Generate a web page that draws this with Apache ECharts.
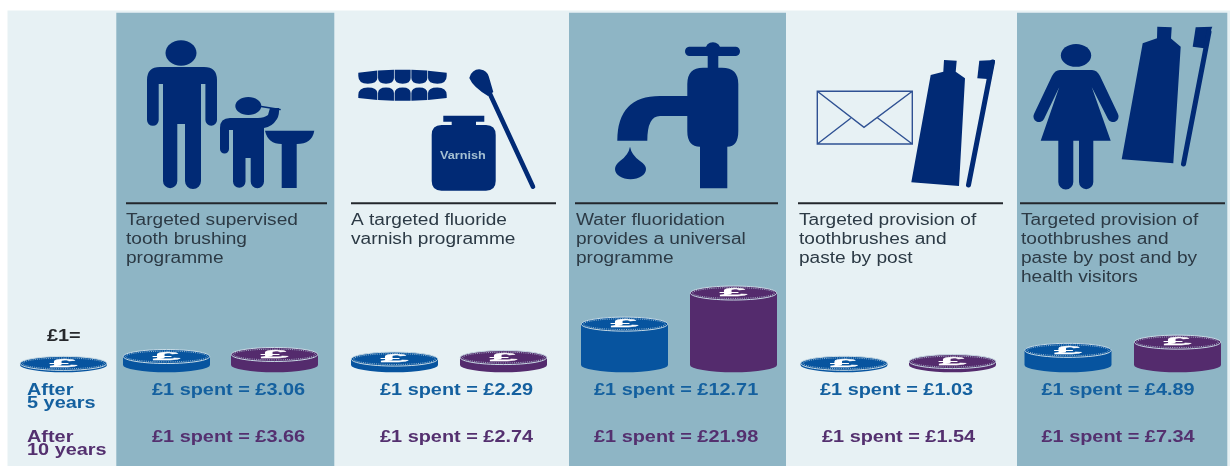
<!DOCTYPE html>
<html>
<head>
<meta charset="utf-8">
<style>html,body{margin:0;padding:0;background:#fff}#c{width:1230px;height:466px;filter:blur(0.45px)}</style>
<script src="https://cdn.jsdelivr.net/npm/echarts@6/dist/echarts.min.js"></script>
</head>
<body>
<div id="c"></div>
<script>
// ---------- data ----------
const programmes = [
  ['Targeted supervised', 'tooth brushing', 'programme'],
  ['A targeted fluoride', 'varnish programme'],
  ['Water fluoridation', 'provides a universal', 'programme'],
  ['Targeted provision of', 'toothbrushes and', 'paste by post'],
  ['Targeted provision of', 'toothbrushes and', 'paste by post and by', 'health visitors']
];
const after5Years = [3.06, 2.29, 12.71, 1.03, 4.89];
const after10Years = [3.66, 2.74, 21.98, 1.54, 7.34];
const referenceCoin = [1];

// ---------- layout ----------
const coin5X = [166.5, 394.5, 624.5, 844, 1068];
const coin10X = [274.5, 503.5, 733.5, 952.5, 1177.5];
const refX = [63.5];
const COIN_BASE = 0.525; // axis value at the centre of a coin's lower rim
const darkPanels = [[116.3, 218], [569, 217], [1017, 210.3]];
const ruleX = [[126, 327], [351, 556], [575, 778], [798, 1003], [1020, 1225]];
const headX = [126, 351, 576, 799, 1021];
const label5X = [152, 380, 594, 820, 1041.5];
const label10X = [152, 380, 594, 822, 1041.5];

const NAVY = '#012a75', LIGHT = '#e7f1f4', DARK = '#8eb5c5';
const BLUE = '#07549f', PURPLE = '#542b6d';
const TXT_BLUE = '#14609f', TXT_PURPLE = '#54306f';
const FONT = '"Liberation Sans", Arial, sans-serif';

function txt(text, x, y, size, weight, fill, sx) {
  return {
    type: 'text', x: x, y: y, scaleX: sx || 1.17, z: 10, silent: true,
    style: { text: text, fill: fill, font: weight + ' ' + size + 'px ' + FONT,
             align: 'left', verticalAlign: 'middle', textAlign: 'left', textVerticalAlign: 'middle' }
  };
}

const graphics = [
  { type: 'rect', z: 0, silent: true, shape: { x: 7.5, y: 10.5, width: 1223, height: 456 }, style: { fill: LIGHT } }
];
darkPanels.forEach(p => graphics.push({ type: 'rect', z: 1, silent: true,
  shape: { x: p[0], y: 12.7, width: p[1], height: 454 }, style: { fill: DARK } }));
ruleX.forEach(r => graphics.push({ type: 'rect', z: 5, silent: true,
  shape: { x: r[0], y: 202.2, width: r[1] - r[0], height: 2 }, style: { fill: '#23272c' } }));
programmes.forEach((lines, i) => lines.forEach((l, j) =>
  graphics.push(txt(l, headX[i], 220.7 + j * 18.8, 16, 'normal', '#2c3a45', 1.193))));
after5Years.forEach((v, i) => graphics.push(txt('£1 spent = £' + v.toFixed(2), label5X[i], 390, 17, 'bold', TXT_BLUE)));
after10Years.forEach((v, i) => graphics.push(txt('£1 spent = £' + v.toFixed(2), label10X[i], 437, 17, 'bold', TXT_PURPLE)));
graphics.push(txt('£1=', 47, 336, 17, 'bold', '#26282b', 1.17));
graphics.push(txt('After', 27, 390, 17, 'bold', TXT_BLUE));
graphics.push(txt('5 years', 27, 403.5, 17, 'bold', TXT_BLUE));
graphics.push(txt('After', 27, 437, 17, 'bold', TXT_PURPLE));
graphics.push(txt('10 years', 27, 450.5, 17, 'bold', TXT_PURPLE));
graphics.push({ type: 'text', x: 440, y: 156, scaleX: 1.15, z: 10, silent: true,
  style: { text: 'Varnish', fill: '#a5c0d2', font: 'bold 11px ' + FONT, align: 'left', verticalAlign: 'middle', textAlign: 'left', textVerticalAlign: 'middle' } });

// ---------- pictograms (decoration, in page pixels) ----------
function arcY(x, edge, mid) { const u = (x - 402.5) / 44.2; return mid + (edge - mid) * u * u; }
const toothEdges = [358.3, 377.7, 394.3, 411, 427.7, 446.7];
let teeth = '';
for (let i = 0; i < 5; i++) {
  const a = toothEdges[i] + (i ? 0.35 : 0), b = toothEdges[i + 1] - (i < 4 ? 0.35 : 0), m = (a + b) / 2;
  const ba = i === 0 ? 76 : 78, bb = i === 4 ? 76 : 78;
  teeth += `M${a} ${arcY(a, 72.7, 69.6)}L${b} ${arcY(b, 72.7, 69.6)}L${b} ${bb}Q${b} 83.7 ${m} 83.7Q${a} 83.7 ${a} ${ba}Z`;
  const ca = i === 0 ? 95 : 93, cb = i === 4 ? 95 : 93;
  teeth += `M${a} ${arcY(a, 98, 100.9)}L${b} ${arcY(b, 98, 100.9)}L${b} ${cb}Q${b} 87.4 ${m} 87.4Q${a} 87.4 ${a} ${ca}Z`;
}
const filled = [
  // adult
  'M147 80Q147 67 160 67L204 67Q217 67 217 80L217 120A5.8 5.8 0 0 1 205.4 120L205.4 84L201 84L201 181A8 8 0 0 1 185 181L185 124L177.3 124L177.3 181A7.15 7.15 0 0 1 163 181L163 84L158.7 84L158.7 120A5.85 5.85 0 0 1 147 120Z',
  // child
  'M220 128Q220 118 230 118L258 118Q264 118 268 115L270 108L279 108Q279.5 115 277 119Q272 127 264 128L264 181.5A6.65 6.65 0 0 1 250.7 181.5L250.7 158L245.5 158L245.5 181.5A6.25 6.25 0 0 1 233 181.5L233 130L229 130L229 149A4.5 4.5 0 0 1 220 149Z',
  // basin
  'M265 130.7L314.3 130.7Q312 144 296.7 144L296.7 188L281.7 188L281.7 144Q268 144 265 130.7Z',
  // teeth
  teeth,
  // jar
  'M443.3 115.7L484.3 115.7L484.3 121.7L476 121.7L476 125L486 125Q495.7 125 495.7 135L495.7 181Q495.7 190.7 486 190.7L441.5 190.7Q431.7 190.7 431.7 181L431.7 135Q431.7 125 441.5 125L451.7 125L451.7 121.7L443.3 121.7Z',
  // swab head
  'M469.3 78A10 10 0 0 1 488.8 76.5L493.3 92L488 96Q473 87 469.3 78Z',
  // tap
  'M689 46.7L706 46.7A7.5 7 0 0 1 720 46.7L736 46.7A4.7 4.7 0 0 1 736 56L718.3 56L718.3 67.7L722 67.7Q738.3 67.7 738.3 84L738.3 131Q738.3 146.7 727.3 146.7L727.3 188.3L700 188.3L700 146.7Q687.3 146.7 687.3 131L687.3 116L660 116Q647.3 116 647.3 140.7L617.3 140.7Q617.3 96 660 96L687.3 96L687.3 84Q687.3 67.7 703 67.7L707.7 67.7L707.7 56L689 56A4.7 4.7 0 0 1 689 46.7Z',
  // drop
  'M630 146.7Q631.5 155 640 161Q646 165 646 169A15.5 10.3 0 0 1 615 169Q615 165 620 161Q628.5 155 630 146.7Z',
  // post tube
  'M944 60L956.7 60.7L955.7 71.7L965 78.3L959 186L911.3 182.3L930.7 75L943.3 71.7Z',
  // post brush head
  'M979.3 60.7L995 60L991 79.3L977.3 78.3Z',
  // woman
  'M1060 70L1092 70Q1097 70 1100 76L1118 114A5.5 5.5 0 0 1 1108 119L1091.7 87L1110.7 140.7L1093.3 140.7L1093.3 182A7.15 7.15 0 0 1 1079 182L1079 140.7L1073.3 140.7L1073.3 182A7.5 7.5 0 0 1 1058.3 182L1058.3 140.7L1040.7 140.7L1059.3 87L1044 119A5.5 5.5 0 0 1 1034 114L1052 76Q1055 70 1060 70Z',
  // woman tube
  'M1157.3 26.7L1171.7 27.3L1171 38.5L1180.7 46.7L1173.3 163.3L1121.7 159.3L1142.7 43.3L1157 38.3Z',
  // woman brush head
  'M1195.7 27.3L1212.3 26.7L1204 48.3L1192.7 46.7Z'
];
const ellipses = [[181, 53, 15.5, 12.7], [248.3, 106, 13, 9], [1076, 55.4, 15.2, 11.4]];
const strokes = [
  ['M258 106L280 109.5', 1.6, 'round'],
  ['M490 94L533 186.7', 4.6, 'round'],
  ['M992.5 62L968.5 185', 5, 'round'],
  ['M1209 32L1183.5 164', 5, 'round']
];

function renderIcons() {
  const children = [];
  filled.forEach(d => children.push({ type: 'path', shape: { pathData: d }, style: { fill: NAVY } }));
  ellipses.forEach(e => children.push({ type: 'ellipse', shape: { cx: e[0], cy: e[1], rx: e[2], ry: e[3] }, style: { fill: NAVY } }));
  strokes.forEach(s => children.push({ type: 'path', shape: { pathData: s[0] },
    style: { fill: 'none', stroke: NAVY, lineWidth: s[1], lineCap: s[2] } }));
  children.push({ type: 'path',
    shape: { pathData: 'M817.3 91.3L912.3 91.3L912.3 144L817.3 144ZM817.3 91.3L864 127.3L912.3 91.3M817.3 144L850.7 118.3M912.3 144L876.7 117.3' },
    style: { fill: 'none', stroke: '#2f5193', lineWidth: 1.4 } });
  return { type: 'group', children: children };
}

function coinRenderer(color, halfW) {
  return function (params, api) {
    const base = api.coord([api.value(0), COIN_BASE]);
    const top = api.coord([api.value(0), api.value(1)]);
    const x = base[0], y0 = base[1], y1 = top[1], rx = halfW, ry = 7.2;
    const side = `M${x - rx} ${y1}L${x - rx} ${y0}A${rx} ${ry} 0 0 0 ${x + rx} ${y0}L${x + rx} ${y1}Z`;
    return {
      type: 'group',
      children: [
        { type: 'path', shape: { pathData: side }, style: { fill: color } },
        { type: 'ellipse', shape: { cx: x, cy: y1, rx: rx - 0.3, ry: ry - 0.2 },
          style: { fill: color, stroke: '#c9dce6', lineWidth: 1 } },
        { type: 'ellipse', shape: { cx: x, cy: y1, rx: rx - 2.6, ry: ry - 1.8 },
          style: { fill: 'none', stroke: '#b9cfdc', lineWidth: 0.8, lineDash: [1, 1.2] } },
        { type: 'text', x: x, y: y1 + 0.2, scaleX: 3.1, scaleY: 0.68,
          style: { text: '£', fill: '#ffffff', stroke: '#ffffff', lineWidth: 0.4, font: 'bold 16px ' + FONT, align: 'center', verticalAlign: 'middle',
                   textAlign: 'center', textVerticalAlign: 'middle' } }
      ]
    };
  };
}
const pairs = (xs, vs) => vs.map((v, i) => [xs[i], v]);

const chart = echarts.init(document.getElementById('c'), null, { renderer: 'canvas' });
chart.setOption({
  animation: false,
  backgroundColor: '#ffffff',
  tooltip: { show: false },
  // x axis runs 1:1 with the page; y axis: 3.355px per pound
  grid: { left: 0, right: 0, top: 266.11, bottom: 99.24 },
  xAxis: { type: 'value', min: 0, max: 1230, show: false },
  yAxis: { type: 'value', min: 0, max: 30, show: false },
  graphic: graphics,
  series: [
    { type: 'custom', name: 'Icons', coordinateSystem: 'none', silent: true, clip: false, data: [0], renderItem: renderIcons, z: 3 },
    { type: 'custom', name: '£1', silent: true, clip: false, encode: { x: 0, y: 1 }, data: pairs(refX, referenceCoin), renderItem: coinRenderer(BLUE, 43.5), z: 4 },
    { type: 'custom', name: 'After 5 years', silent: true, clip: false, encode: { x: 0, y: 1 }, data: pairs(coin5X, after5Years), renderItem: coinRenderer(BLUE, 43.5), z: 4 },
    { type: 'custom', name: 'After 10 years', silent: true, clip: false, encode: { x: 0, y: 1 }, data: pairs(coin10X, after10Years), renderItem: coinRenderer(PURPLE, 43.5), z: 4 }
  ]
});
</script>
</body>
</html>
